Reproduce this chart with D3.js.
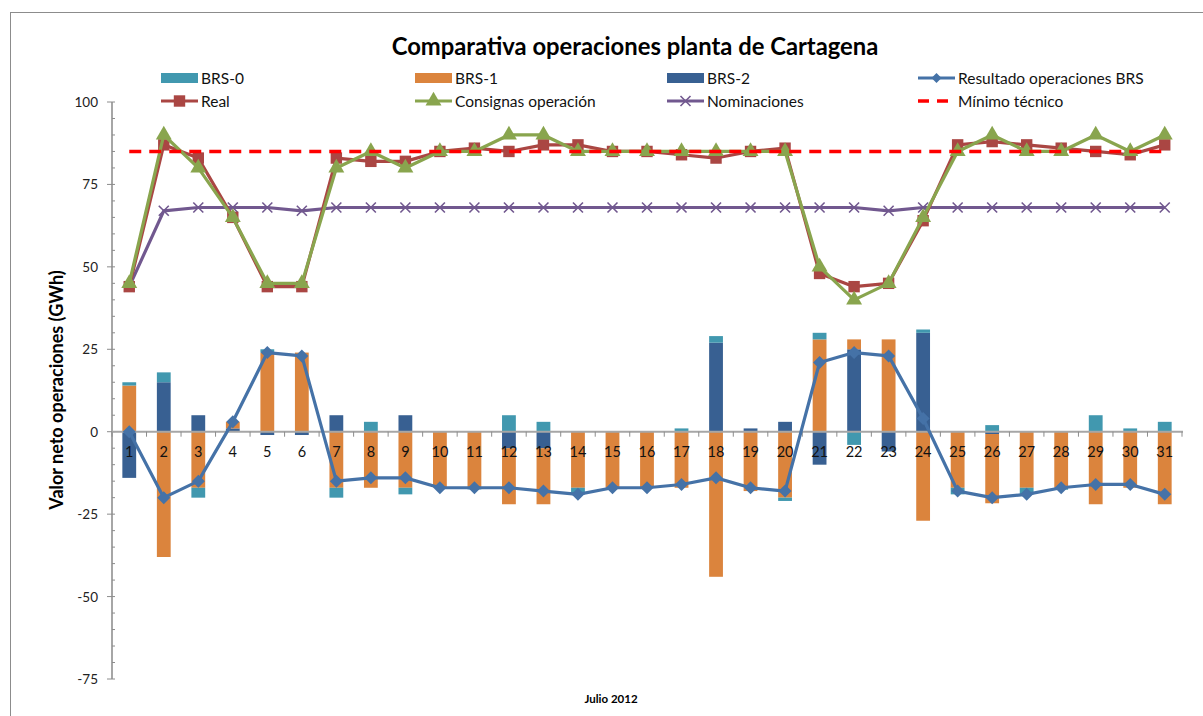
<!DOCTYPE html>
<html><head><meta charset="utf-8">
<script src="https://cdn.jsdelivr.net/npm/d3@7"></script>
<style>
html,body{margin:0;padding:0;background:#fff;}
svg text{font-family:Lato,"Liberation Sans",Arial,sans-serif;}
</style></head>
<body><svg id="c" width="1203" height="716"></svg>
<script>
const days = d3.range(1, 32).map(String);
const brs0 = [1, 3, -3, 0, 1, 0, -3, 3, -2, 0, -0.5, 5, 3, -2, 0, 0, 1, 2, 0, -1, 2, -4, 0, 1, -2, 2, -2, -0.6, 5, 1, 3];
const brs1 = [14, -38, -17, 2, 24, 24, -17, -17, -17, -17, -17, -17, -17, -17, -17, -17, -17, -44, -18, -20, 28, 3, 28, -27, -17, -21, -17, -17, -22, -17, -22];
const brs2 = [-14, 15, 5, 1, -1, -1, 5, 0, 5, 0, 0, -5, -5, 0, 0, 0, 0, 27, 1, 3, -10, 25, -6, 30, 0, -0.7, 0, 0, 0, 0, 0];
const resultado = [0, -20, -15, 3, 24, 23, -15, -14, -14, -17, -17, -17, -18, -19, -17, -17, -16, -14, -17, -18, 21, 24, 23, 4, -18, -20, -19, -17, -16, -16, -19];
const real = [44, 87, 83, 65, 44, 44, 83, 82, 82, 85, 86, 85, 87, 87, 85, 85, 84, 83, 85, 86, 48, 44, 45, 64, 87, 88, 87, 86, 85, 84, 87];
const consignas = [45, 90, 80, 65, 45, 45, 80, 85, 80, 85, 85, 90, 90, 85, 85, 85, 85, 85, 85, 85, 50, 40, 45, 65, 85, 90, 85, 85, 90, 85, 90];
const nominaciones = [44, 67, 68, 68, 68, 67, 68, 68, 68, 68, 68, 68, 68, 68, 68, 68, 68, 68, 68, 68, 68, 68, 67, 68, 68, 68, 68, 68, 68, 68, 68];
const minimo = [85, 85, 85, 85, 85, 85, 85, 85, 85, 85, 85, 85, 85, 85, 85, 85, 85, 85, 85, 85, 85, 85, 85, 85, 85, 85, 85, 85, 85, 85, 85];
const yTicks = [-75, -50, -25, 0, 25, 50, 75, 100];

const C = {brs0:"#4198AF", brs1:"#DB843D", brs2:"#386092", res:"#4572A7", real:"#AA4643", cons:"#89A54E", nom:"#71588F", min:"#FF0000"};

const svg = d3.select("#c");
svg.append("rect").attr("x",10.5).attr("y",12.5).attr("width",1200).attr("height",720)
  .attr("fill","#fff").attr("stroke","#8c8c8c").attr("stroke-width",1);

const x = d3.scaleBand().domain(days).range([112, 1182]).paddingInner(0.6).paddingOuter(0.3);
const xc = d => x(d) + x.bandwidth()/2;
const y = d3.scaleLinear().domain([-75, 100]).range([679, 102]);

// title
svg.append("text").attr("x",635).attr("y",55).attr("text-anchor","middle")
  .attr("font-size",23.8).attr("font-weight","bold").text("Comparativa operaciones planta de Cartagena");

// bars
const table = days.map((d,i)=>({day:d, brs2:brs2[i], brs1:brs1[i], brs0:brs0[i]}));
const stack = d3.stack().keys(["brs2","brs1","brs0"]).offset(d3.stackOffsetDiverging);
const series = stack(table);
const gb = svg.append("g");
series.forEach(s=>{
  gb.selectAll(null).data(s).join("rect")
    .attr("x", d=>x(d.data.day))
    .attr("width", x.bandwidth())
    .attr("y", d=>y(Math.max(d[0],d[1])))
    .attr("height", d=>Math.abs(y(d[0])-y(d[1])))
    .attr("fill", C[s.key]);
});

// y axis
const yAxisG = svg.append("g");
yAxisG.append("line").attr("x1",112).attr("x2",112).attr("y1",y(100)).attr("y2",y(-75))
  .attr("stroke","#a6a6a6").attr("stroke-width",2);
d3.range(-75, 101, 5).forEach(v=>{
  const major = v % 25 === 0;
  yAxisG.append("line").attr("x1", major?107:112).attr("x2",115).attr("y1",y(v)).attr("y2",y(v))
    .attr("stroke","#8c8c8c").attr("stroke-width",1);
});
yAxisG.selectAll("text.tk").data(yTicks).join("text").attr("class","tk")
  .attr("x",98).attr("y",d=>y(d)+5).attr("text-anchor","end").attr("font-size",13.5).attr("fill","#222")
  .text(d=>d);

// x axis
const xa = svg.append("g");
xa.append("line").attr("x1",112).attr("x2",1183).attr("y1",y(0)).attr("y2",y(0))
  .attr("stroke","#a6a6a6").attr("stroke-width",2);
d3.range(0, days.length+1).forEach(i=>{
  const px = 112 + i*(1182-112)/days.length;
  xa.append("line").attr("x1",px).attr("x2",px).attr("y1",y(0)).attr("y2",y(0)+5)
    .attr("stroke","#8c8c8c").attr("stroke-width",1);
});
xa.selectAll("text").data(days).join("text")
  .attr("x",d=>xc(d)).attr("y",y(0)+25).attr("text-anchor","middle").attr("font-size",14.5).attr("fill","#111")
  .text(d=>d);

// line helper
const line = d3.line().x((v,i)=>xc(days[i])).y(v=>y(v));
function drawLine(vals, color, w, dash){
  svg.append("path").attr("d", line(vals)).attr("fill","none").attr("stroke",color)
    .attr("stroke-width",w).attr("stroke-linejoin","round").attr("stroke-dasharray",dash||null);
}
const sym = {
  square: d3.symbol().type(d3.symbolSquare).size(130),
  triangle: d3.symbol().type(d3.symbolTriangle).size(110),
};
function diamondPath(cx, cy, r){ return `M${cx},${cy-r}L${cx+r},${cy}L${cx},${cy+r}L${cx-r},${cy}Z`; }
function drawMarkers(vals, type, color){
  const g = svg.append("g");
  vals.forEach((v,i)=>{
    const cx = xc(days[i]), cy = y(v);
    if(type==="x"){
      g.append("path").attr("d",`M${cx-5},${cy-5}L${cx+5},${cy+5}M${cx-5},${cy+5}L${cx+5},${cy-5}`)
        .attr("stroke",color).attr("stroke-width",1.6);
    } else if(type==="diamond"){
      g.append("path").attr("d", diamondPath(cx, cy, 6.5)).attr("fill",color);
    } else {
      g.append("path").attr("d", sym[type]()).attr("transform",`translate(${cx},${cy})`).attr("fill",color);
    }
  });
}

drawLine(resultado, C.res, 3.2);
drawMarkers(resultado, "diamond", C.res);
drawLine(nominaciones, C.nom, 3.2);
drawMarkers(nominaciones, "x", C.nom);
drawLine(real, C.real, 3.2);
drawMarkers(real, "square", C.real);
drawLine(consignas, C.cons, 3.2);
drawMarkers(consignas, "triangle", C.cons);
drawLine(minimo, C.min, 3.5, "12,8");

// axis titles
svg.append("text").attr("transform","translate(63,390) rotate(-90)").attr("text-anchor","middle")
  .attr("font-size",18).attr("font-weight","bold").text("Valor neto operaciones  (GWh)");
svg.append("text").attr("x",611).attr("y",703).attr("text-anchor","middle")
  .attr("font-size",11.5).attr("font-weight","bold").text("Julio 2012");

// legend
const legendItems = [
  {name:"BRS-0", kind:"rect", color:C.brs0, col:0, row:0},
  {name:"BRS-1", kind:"rect", color:C.brs1, col:1, row:0},
  {name:"BRS-2", kind:"rect", color:C.brs2, col:2, row:0},
  {name:"Resultado operaciones BRS", kind:"line", marker:"diamond", color:C.res, col:3, row:0},
  {name:"Real", kind:"line", marker:"square", color:C.real, col:0, row:1},
  {name:"Consignas operación", kind:"line", marker:"triangle", color:C.cons, col:1, row:1},
  {name:"Nominaciones", kind:"line", marker:"x", color:C.nom, col:2, row:1},
  {name:"Mínimo técnico", kind:"dash", color:C.min, col:3, row:1},
];
const colX = [161, 415, 667, 918], rowY = [78, 101];
const lg = svg.append("g");
legendItems.forEach(it=>{
  const lx = colX[it.col], ly = rowY[it.row];
  if(it.kind==="rect"){
    lg.append("rect").attr("x",lx).attr("y",ly-5).attr("width",37).attr("height",10).attr("fill",it.color);
  } else if(it.kind==="line"){
    lg.append("line").attr("x1",lx).attr("x2",lx+37).attr("y1",ly).attr("y2",ly).attr("stroke",it.color).attr("stroke-width",3);
    const cx = lx+18.5;
    if(it.marker==="x"){
      lg.append("path").attr("d",`M${cx-5},${ly-5}L${cx+5},${ly+5}M${cx-5},${ly+5}L${cx+5},${ly-5}`)
        .attr("stroke",it.color).attr("stroke-width",1.6);
    } else if(it.marker==="diamond"){
      lg.append("path").attr("d", diamondPath(cx, ly, 5)).attr("fill",it.color);
    } else {
      lg.append("path").attr("d", sym[it.marker]()).attr("transform",`translate(${cx},${ly})`).attr("fill",it.color);
    }
  } else {
    lg.append("line").attr("x1",lx).attr("x2",lx+37).attr("y1",ly).attr("y2",ly).attr("stroke",it.color)
      .attr("stroke-width",3.5).attr("stroke-dasharray","11,8");
  }
  lg.append("text").attr("x",lx+40).attr("y",ly+5.5).attr("font-size",15.5).attr("fill","#111").text(it.name);
});
</script></body></html>
